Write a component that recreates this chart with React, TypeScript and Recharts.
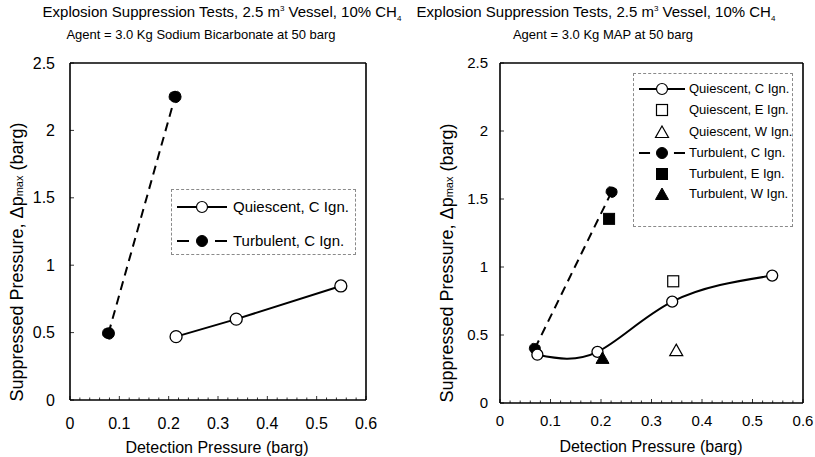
import React from "react";
import { ComposedChart, Line, Scatter, XAxis, YAxis, ReferenceLine } from "recharts";

const FONT = "'Liberation Sans', Arial, Helvetica, sans-serif";

// tick labels
const xTickLabels = [0, 0.1, 0.2, 0.3, 0.4, 0.5, 0.6];
const yTickLabels = [0, 0.5, 1, 1.5, 2, 2.5];

// left panel: Sodium Bicarbonate
const leftQuiescentX = [0.215, 0.337, 0.549];
const leftQuiescentY = [0.47, 0.6, 0.846];
const leftTurbulentX = [0.078, 0.213];
const leftTurbulentY = [0.495, 2.25];

// right panel: MAP
const rightQuiescentCX = [0.074, 0.193, 0.341, 0.539];
const rightQuiescentCY = [0.355, 0.376, 0.745, 0.937];
const rightQuiescentEX = [0.343];
const rightQuiescentEY = [0.895];
const rightQuiescentWX = [0.349];
const rightQuiescentWY = [0.385];
const rightTurbulentCX = [0.069, 0.221];
const rightTurbulentCY = [0.4, 1.552];
const rightTurbulentEX = [0.216];
const rightTurbulentEY = [1.354];
const rightTurbulentWX = [0.203];
const rightTurbulentWY = [0.328];

const pts = (xs: number[], ys: number[]) => xs.map((x, i) => ({ x, y: ys[i] }));

// minor tick positions along x (every 0.02)
const xMinorTicks = Array.from({ length: 31 }, (_, i) => Number((i * 0.02).toFixed(2)));

const OpenSquare = (p: any) => (
  <rect x={p.cx - 5.5} y={p.cy - 5.5} width={11} height={11} fill="#fff" stroke="#000" strokeWidth={1.2} />
);
const FilledSquare = (p: any) => (
  <rect x={p.cx - 5.5} y={p.cy - 5.5} width={11} height={11} fill="#000" stroke="#000" strokeWidth={1} />
);
const triPoints = (cx: number, cy: number) => `${cx},${cy - 6.5} ${cx + 6.5},${cy + 5} ${cx - 6.5},${cy + 5}`;
const OpenTriangle = (p: any) => (
  <polygon points={triPoints(p.cx, p.cy)} fill="#fff" stroke="#000" strokeWidth={1.2} />
);
const FilledTriangle = (p: any) => (
  <polygon points={triPoints(p.cx, p.cy)} fill="#000" stroke="#000" strokeWidth={1} />
);

const makeXTick = (margin: number, fontSize: number) => (props: any) => {
  const { x, y, payload } = props;
  const v = Number(Number(payload.value).toFixed(2));
  const axisY = y - margin;
  const major = xTickLabels.includes(v);
  return (
    <g>
      <line x1={x} x2={x} y1={axisY} y2={axisY - (major ? 4 : 2.5)} stroke="#000" strokeWidth={0.8} />
      {major && (
        <text x={x} y={y} dy="0.71em" textAnchor="middle" fontSize={fontSize} fontFamily={FONT} fill="#000">
          {v}
        </text>
      )}
    </g>
  );
};

const makeYTick = (margin: number, fontSize: number) => (props: any) => {
  const { x, y, payload } = props;
  const axisX = x + margin;
  return (
    <g>
      <line x1={axisX} x2={axisX + 4} y1={y} y2={y} stroke="#000" strokeWidth={0.8} />
      <text x={x} y={y} dy="0.355em" textAnchor="end" fontSize={fontSize} fontFamily={FONT} fill="#000">
        {payload.value}
      </text>
    </g>
  );
};

const Title = ({ cx1, cx2, line2 }: { cx1: number; cx2: number; line2: string }) => (
  <>
    <div style={{ position: "absolute", left: cx1 - 250, width: 500, top: 3, textAlign: "center", fontFamily: FONT, fontSize: 15, whiteSpace: "nowrap" }}>
      Explosion Suppression Tests, 2.5 m<sup style={{ fontSize: 8 }}>3</sup> Vessel, 10% CH<sub style={{ fontSize: 8 }}>4</sub>
    </div>
    <div style={{ position: "absolute", left: cx2 - 250, width: 500, top: 27, textAlign: "center", fontFamily: FONT, fontSize: 13, whiteSpace: "nowrap" }}>
      {line2}
    </div>
  </>
);

const YLabel = ({ cx, cy }: { cx: number; cy: number }) => (
  <div
    style={{
      position: "absolute",
      left: cx,
      top: cy,
      transform: "translate(-50%, -50%) rotate(-90deg)",
      fontFamily: FONT,
      fontSize: 18,
      whiteSpace: "nowrap",
    }}
  >
    Suppressed Pressure, Δp<span style={{ fontSize: 11 }}>max</span> (barg)
  </div>
);

const XLabel = ({ cx, top }: { cx: number; top: number }) => (
  <div style={{ position: "absolute", left: cx - 150, width: 300, top, textAlign: "center", fontFamily: FONT, fontSize: 16, lineHeight: "18px", whiteSpace: "nowrap" }}>
    Detection Pressure (barg)
  </div>
);

const LegendIcon = ({ kind, w }: { kind: string; w: number }) => {
  const c = w / 2;
  return (
    <svg width={w} height={14} style={{ display: "block" }}>
      {kind === "solidOpen" && (
        <>
          <line x1={0} x2={w} y1={7} y2={7} stroke="#000" strokeWidth={2} />
          <circle cx={c} cy={7} r={5.5} fill="#fff" stroke="#000" strokeWidth={1.2} />
        </>
      )}
      {kind === "dashFilled" && (
        <>
          <line x1={0} x2={w} y1={7} y2={7} stroke="#000" strokeWidth={2} strokeDasharray={`${w * 0.24} ${w * 0.52}`} />
          <circle cx={c} cy={7} r={5.5} fill="#000" stroke="#000" />
        </>
      )}
      {kind === "openSquare" && <OpenSquare cx={c} cy={7} />}
      {kind === "openTriangle" && <OpenTriangle cx={c} cy={7.5} />}
      {kind === "filledSquare" && <FilledSquare cx={c} cy={7} />}
      {kind === "filledTriangle" && <FilledTriangle cx={c} cy={7.5} />}
    </svg>
  );
};

const LegendBox = ({
  left, top, width, height, rows, rowTops, iconW, fontSize, textLeft,
}: {
  left: number; top: number; width: number; height: number;
  rows: { kind: string; label: string }[]; rowTops: number[]; iconW: number; fontSize: number; textLeft: number;
}) => (
  <div style={{ position: "absolute", left, top, width, height, border: "1px dashed #8a8a8a", boxSizing: "border-box", background: "#fff" }}>
    {rows.map((r, i) => (
      <div key={r.label} style={{ position: "absolute", top: rowTops[i] - 7, left: 5, height: 14, display: "flex", alignItems: "center" }}>
        <LegendIcon kind={r.kind} w={iconW} />
        <span style={{ position: "absolute", left: textLeft, fontFamily: FONT, fontSize, whiteSpace: "nowrap", lineHeight: "14px" }}>{r.label}</span>
      </div>
    ))}
  </div>
);

const leftLegend = [
  { kind: "solidOpen", label: "Quiescent, C Ign." },
  { kind: "dashFilled", label: "Turbulent, C Ign." },
];
const rightLegend = [
  { kind: "solidOpen", label: "Quiescent, C Ign." },
  { kind: "openSquare", label: "Quiescent, E Ign." },
  { kind: "openTriangle", label: "Quiescent, W Ign." },
  { kind: "dashFilled", label: "Turbulent, C Ign." },
  { kind: "filledSquare", label: "Turbulent, E Ign." },
  { kind: "filledTriangle", label: "Turbulent, W Ign." },
];

const axisLine = { stroke: "#000", strokeWidth: 1.6 };

export default function App() {
  return (
    <div style={{ position: "absolute", left: 0, top: 0, width: 815, height: 457, background: "#fff", overflow: "hidden" }}>
      {/* left panel */}
      <div style={{ position: "absolute", left: 0, top: 0 }}>
        <ComposedChart width={400} height={457} margin={{ top: 63, right: 34, bottom: 0, left: 0 }}>
          <XAxis dataKey="x" type="number" domain={[0, 0.6]} ticks={xMinorTicks} interval={0} tickSize={0} tickMargin={18}
            tick={makeXTick(18, 16)} axisLine={axisLine} height={57} allowDataOverflow />
          <YAxis type="number" domain={[0, 2.5]} ticks={yTickLabels} tickSize={0} tickMargin={15}
            tick={makeYTick(15, 16)} axisLine={axisLine} width={70} allowDataOverflow />
          <ReferenceLine y={2.5} stroke="#000" strokeWidth={1.6} />
          <ReferenceLine x={0.6} stroke="#000" strokeWidth={1.6} />
          <Line data={pts(leftTurbulentX, leftTurbulentY)} dataKey="y" type="linear" stroke="#000" strokeWidth={2}
            strokeDasharray="9 6" dot={{ r: 6, fill: "#000", stroke: "#000", strokeWidth: 1 }} isAnimationActive={false} />
          <Line data={pts(leftQuiescentX, leftQuiescentY)} dataKey="y" type="linear" stroke="#000" strokeWidth={2}
            dot={{ r: 6, fill: "#fff", stroke: "#000", strokeWidth: 1.3 }} isAnimationActive={false} />
        </ComposedChart>
      </div>

      {/* right panel */}
      <div style={{ position: "absolute", left: 408, top: 0 }}>
        <ComposedChart width={407} height={457} margin={{ top: 63, right: 12, bottom: 0, left: 0 }}>
          <XAxis dataKey="x" type="number" domain={[0, 0.6]} ticks={xMinorTicks} interval={0} tickSize={0} tickMargin={12}
            tick={makeXTick(12, 15)} axisLine={axisLine} height={54} allowDataOverflow />
          <YAxis type="number" domain={[0, 2.5]} ticks={yTickLabels} tickSize={0} tickMargin={12}
            tick={makeYTick(12, 15)} axisLine={axisLine} width={92} allowDataOverflow />
          <ReferenceLine y={2.5} stroke="#000" strokeWidth={1.6} />
          <ReferenceLine x={0.6} stroke="#000" strokeWidth={1.6} />
          <Line data={pts(rightTurbulentCX, rightTurbulentCY)} dataKey="y" type="linear" stroke="#000" strokeWidth={2}
            strokeDasharray="9 6" dot={{ r: 5.5, fill: "#000", stroke: "#000", strokeWidth: 1 }} isAnimationActive={false} />
          <Line data={pts(rightQuiescentCX, rightQuiescentCY)} dataKey="y" type="natural" stroke="#000" strokeWidth={2}
            dot={{ r: 5.5, fill: "#fff", stroke: "#000", strokeWidth: 1.3 }} isAnimationActive={false} />
          <Scatter data={pts(rightQuiescentEX, rightQuiescentEY)} dataKey="y" shape={OpenSquare} isAnimationActive={false} />
          <Scatter data={pts(rightQuiescentWX, rightQuiescentWY)} dataKey="y" shape={OpenTriangle} isAnimationActive={false} />
          <Scatter data={pts(rightTurbulentEX, rightTurbulentEY)} dataKey="y" shape={FilledSquare} isAnimationActive={false} />
          <Scatter data={pts(rightTurbulentWX, rightTurbulentWY)} dataKey="y" shape={FilledTriangle} isAnimationActive={false} />
        </ComposedChart>
      </div>

      <Title cx1={222} cx2={201} line2="Agent = 3.0 Kg Sodium Bicarbonate at 50 barg" />
      <Title cx1={596} cx2={603} line2="Agent = 3.0 Kg MAP at 50 barg" />
      <YLabel cx={17} cy={262} />
      <YLabel cx={447} cy={263} />
      <XLabel cx={217} top={439} />
      <XLabel cx={651} top={438} />

      <LegendBox left={171} top={189} width={185} height={66} rows={leftLegend} rowTops={[17, 51]}
        iconW={50} fontSize={15} textLeft={56} />
      <LegendBox left={633} top={73} width={160} height={154} rows={rightLegend} rowTops={[15, 36, 58, 79, 100, 120]}
        iconW={46} fontSize={13} textLeft={50} />
    </div>
  );
}
